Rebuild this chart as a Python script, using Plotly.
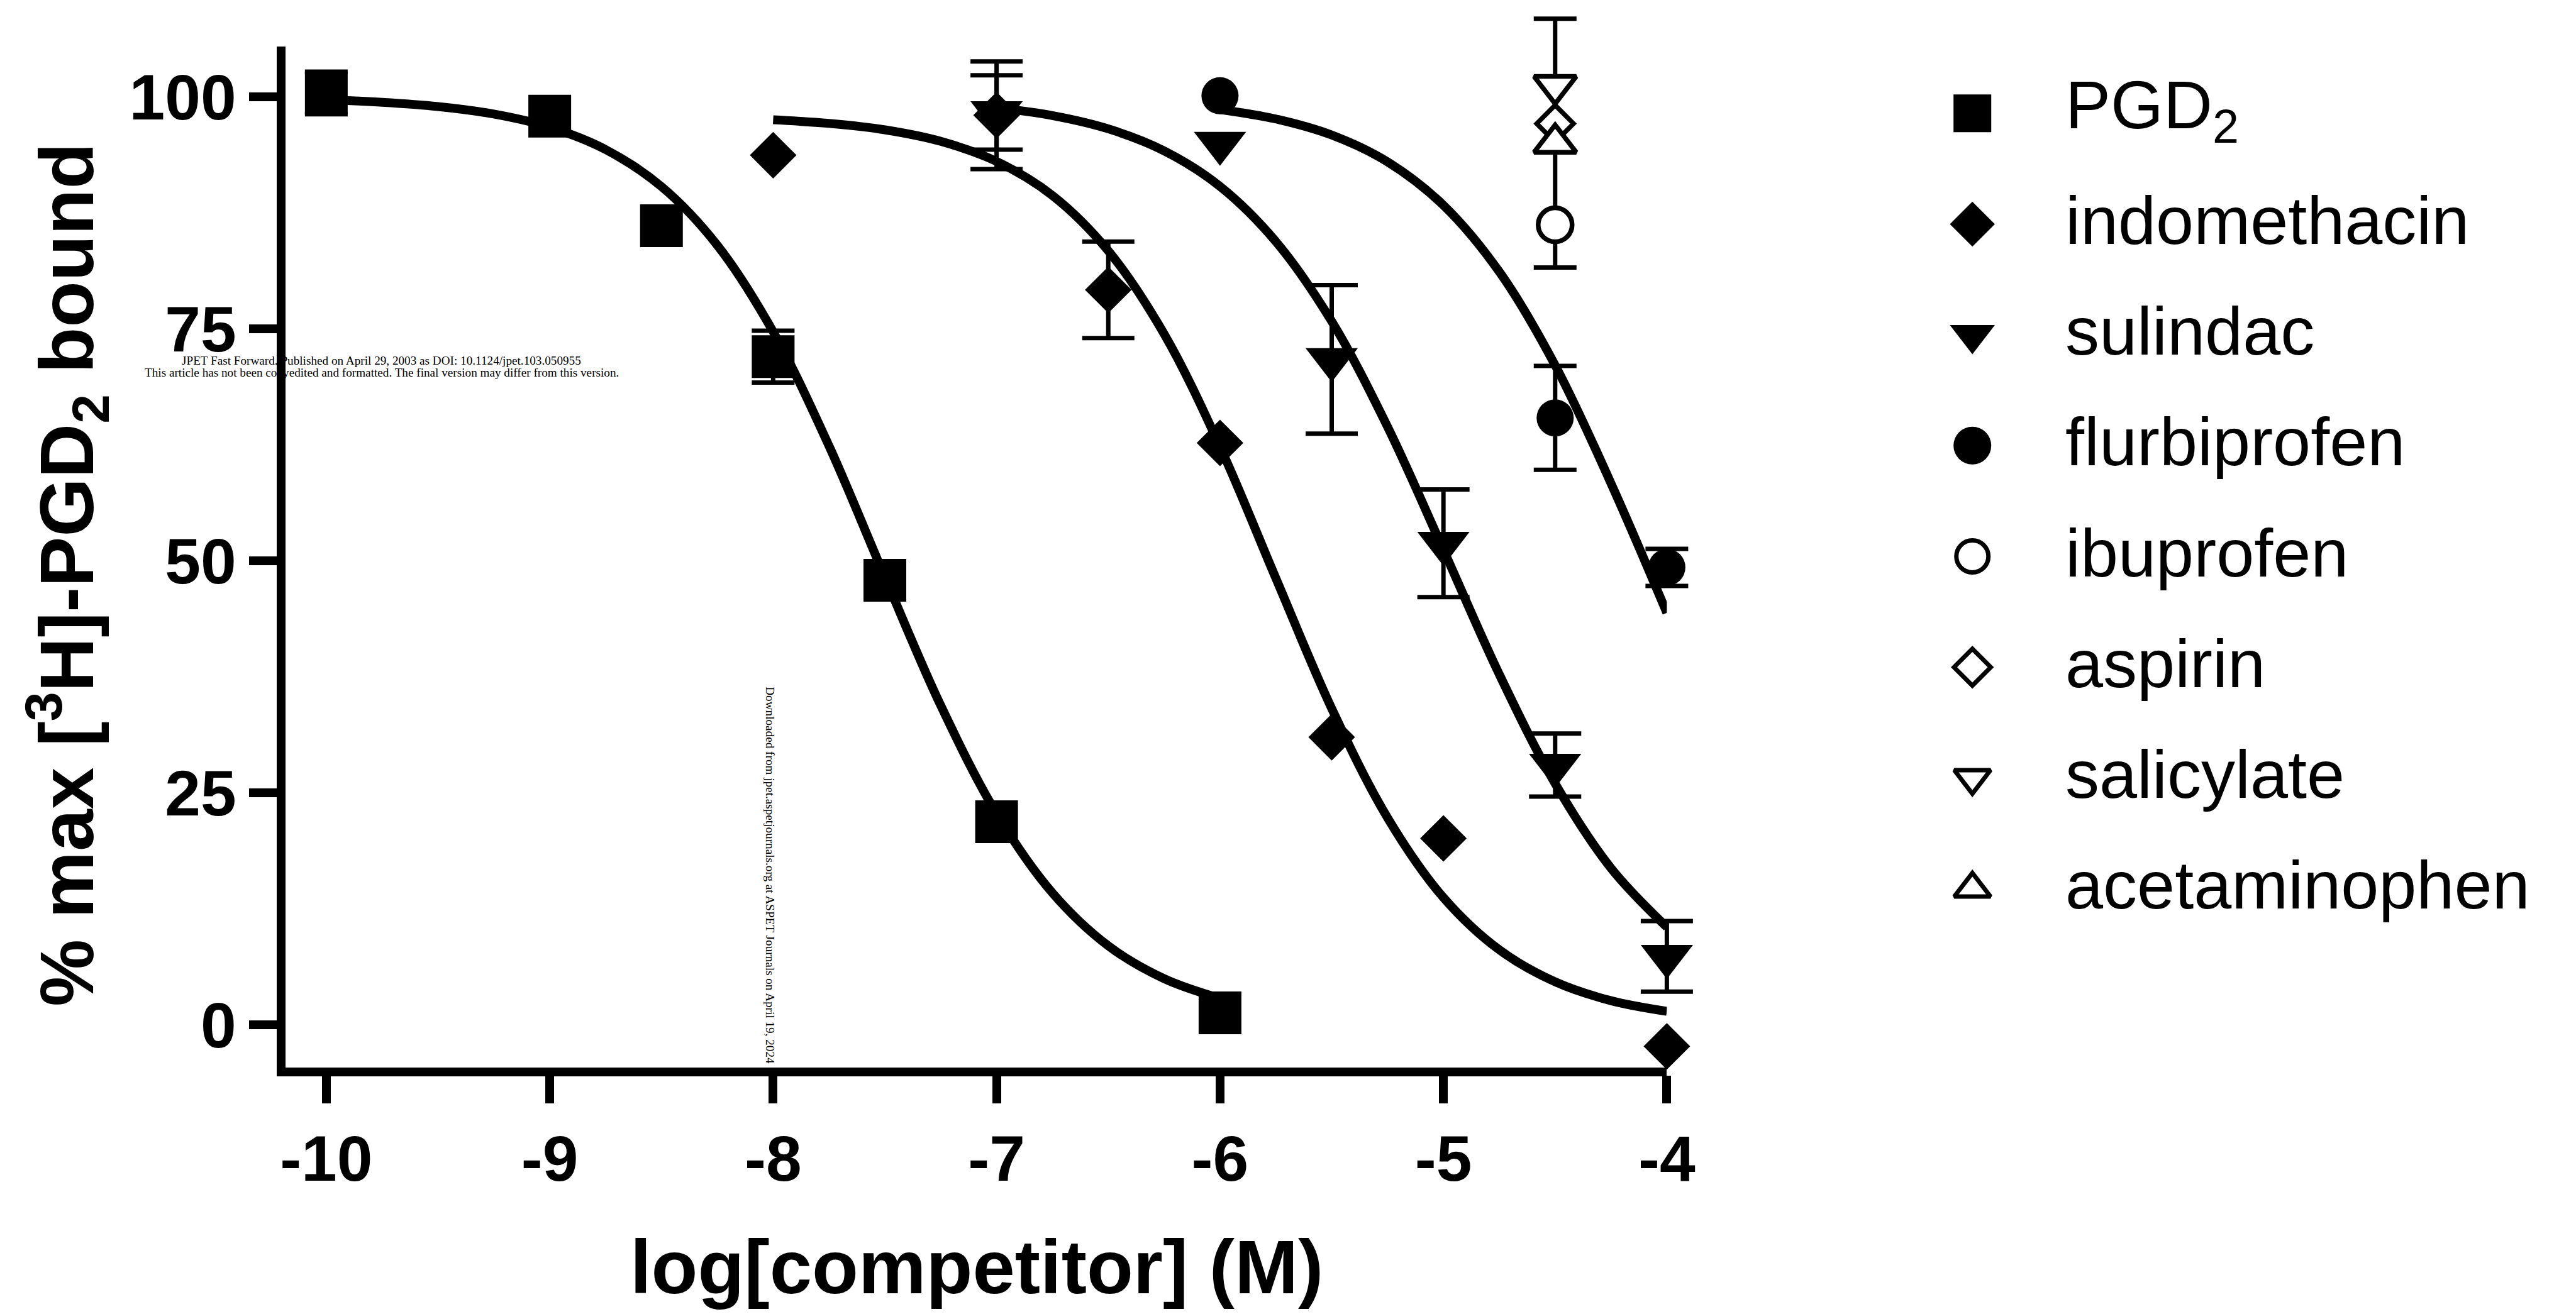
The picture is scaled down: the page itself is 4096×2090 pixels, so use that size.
import plotly.graph_objects as go

W, H = 4096, 2090

# ---------------- data ----------------
# measured points (x = log[competitor] (M), y = % max bound, err = error bar half-length)
pgd2_x = [-10, -9, -8.5, -8, -7.5, -7, -6]
pgd2_y = [100.4, 97.9, 86.1, 72.0, 47.9, 21.9, 1.3]
pgd2_err = [2.3, None, None, 2.8, None, None, None]

indo_x = [-8, -7, -6.5, -6, -5.5, -5, -4]
indo_y = [93.7, 98.0, 79.2, 62.7, 31.0, 20.1, -2.3]
indo_err = [None, 5.8, 5.2, None, None, None, None]

sul_x = [-7, -6, -5.5, -5, -4.5, -4]
sul_y = [98.3, 95.0, 71.7, 51.9, 28.0, 7.4]
sul_err = [4.0, None, 8.0, 5.8, 3.4, 3.8]

flu_x = [-6, -4.5, -4]
flu_y = [100.1, 65.4, 49.3]
flu_err = [None, 5.6, 2.0]

ibu_x = [-4.5]
ibu_y = [86.2]
ibu_err = [None]

asp_x = [-4.5]
asp_y = [97.1]
asp_err = [None]

sal_x = [-4.5]
sal_y = [101.2]
sal_err = [None]

ace_x = [-4.5]
ace_y = [95.0]
ace_err = [13.4]

# fitted curves
pgd2_fit_x = [-10, -9.75, -9.5, -9.25, -9, -8.75, -8.5, -8.25, -8, -7.75, -7.5, -7.25, -7, -6.75, -6.5, -6.25, -6]
pgd2_fit_y = [99.66, 99.40, 98.94, 98.13, 96.72, 94.31, 90.32, 84.00, 74.68, 62.38, 48.26, 34.42, 22.79, 14.23, 8.53, 4.99, 2.87]

indo_fit_x = [-8, -7.75, -7.5, -7.25, -7, -6.75, -6.5, -6.25, -6, -5.75, -5.5, -5.25, -5, -4.75, -4.5, -4.25, -4]
indo_fit_y = [97.51, 97.12, 96.43, 95.19, 93.03, 89.36, 83.40, 74.44, 62.31, 48.13, 34.09, 22.32, 13.73, 8.10, 4.65, 2.62, 1.47]

sul_fit_x = [-7, -6.75, -6.5, -6.25, -6, -5.75, -5.5, -5.25, -5, -4.75, -4.5, -4.25, -4]
sul_fit_y = [98.81, 97.97, 96.54, 94.17, 90.34, 84.40, 75.80, 64.44, 51.20, 37.78, 26.01, 16.90, 10.54]

flu_fit_x = [-6, -5.75, -5.5, -5.25, -5, -4.75, -4.5, -4.25, -4]
flu_fit_y = [98.62, 97.60, 95.87, 92.98, 88.31, 81.15, 71.07, 58.35, 44.40]

x_tick_vals = [-10, -9, -8, -7, -6, -5, -4]
x_tick_text = ["-10", "-9", "-8", "-7", "-6", "-5", "-4"]
y_tick_vals = [0, 25, 50, 75, 100]
y_tick_text = ["0", "25", "50", "75", "100"]

legend_names = ["PGD<sub>2</sub>", "indomethacin", "sulindac", "flurbiprofen",
                "ibuprofen", "aspirin", "salicylate", "acetaminophen"]

x_title = "<b>log[competitor] (M)</b>"
y_title = "<b>% max [<sup>3</sup>H]-PGD<sub>2</sub> bound</b>"
watermark_1 = "JPET Fast Forward. Published on April 29, 2003 as DOI: 10.1124/jpet.103.050955"
watermark_2 = "This article has not been copyedited and formatted. The final version may differ from this version."
watermark_3 = "Downloaded from jpet.aspetjournals.org at ASPET Journals on April 19, 2024"

# ---------------- styling / geometry (output pixels) ----------------
SANS = "Arial, 'Liberation Sans', Helvetica, sans-serif"
SERIF = "'Times New Roman', 'Liberation Serif', serif"
plot_l, plot_r, plot_t, plot_b = 451.8, 2677.7, 73.5, 1697.5
x_range = [-10.183, -4.0]
y_range = [-4.55, 105.44]
AX_LW = 13.6

# an invisible overlay axis pair with the same data scale but a larger area,
# so error bars reaching past the frame are not clipped
ext_r, ext_t = 120.0, 0.0
ux = (x_range[1] - x_range[0]) / (plot_r - plot_l)
uy = (y_range[1] - y_range[0]) / (plot_b - plot_t)
x3_range = [x_range[0], x_range[1] + ext_r * ux]
y3_range = [y_range[0], y_range[1] + (plot_t - ext_t) * uy]

series = [
    dict(name=legend_names[0], x=pgd2_x, y=pgd2_y, err=pgd2_err, sym="square", size=68, open=False, cap=34, lsize=60),
    dict(name=legend_names[1], x=indo_x, y=indo_y, err=indo_err, sym="diamond", size=57, open=False, cap=41.5, lsize=55),
    dict(name=legend_names[2], x=sul_x, y=sul_y, err=sul_err, sym="triangle-down", size=72, open=False, cap=41.5, lsize=62),
    dict(name=legend_names[3], x=flu_x, y=flu_y, err=flu_err, sym="circle", size=59, open=False, cap=34, lsize=60),
    dict(name=legend_names[4], x=ibu_x, y=ibu_y, err=ibu_err, sym="circle", size=54, open=True, cap=34, lsize=51),
    dict(name=legend_names[5], x=asp_x, y=asp_y, err=asp_err, sym="diamond", size=45, open=True, cap=34, lsize=45),
    dict(name=legend_names[6], x=sal_x, y=sal_y, err=sal_err, sym="triangle-down", size=58, open=True, cap=34, lsize=50),
    dict(name=legend_names[7], x=ace_x, y=ace_y, err=ace_err, sym="triangle-up", size=58, open=True, cap=34, lsize=50),
]

fig = go.Figure()

# fitted curves
for fx, fy in [(pgd2_fit_x, pgd2_fit_y), (indo_fit_x, indo_fit_y),
               (sul_fit_x, sul_fit_y), (flu_fit_x, flu_fit_y)]:
    fig.add_trace(go.Scatter(x=fx, y=fy, mode="lines",
                             line=dict(color="black", width=14, shape="spline"),
                             hoverinfo="skip", showlegend=False))

# error bars (drawn under every symbol), only for points that have one
for s in series:
    pts = [(x, y, e) for x, y, e in zip(s["x"], s["y"], s["err"]) if e is not None]
    if not pts:
        continue
    fig.add_trace(go.Scatter(x=[p[0] for p in pts], y=[p[1] for p in pts],
                             xaxis="x3", yaxis="y3", mode="markers",
                             marker=dict(size=2, color="rgba(0,0,0,0)"),
                             error_y=dict(type="data", array=[p[2] for p in pts], visible=True,
                                          color="black", thickness=7, width=s["cap"]),
                             cliponaxis=False, hoverinfo="skip", showlegend=False))

# symbols
for s in series:
    if s["open"]:
        fig.add_trace(go.Scatter(x=s["x"], y=s["y"], xaxis="x3", yaxis="y3", mode="markers",
                                 marker=dict(symbol=s["sym"], size=s["size"], color="white",
                                             line=dict(width=0)),
                                 cliponaxis=False, hoverinfo="skip", showlegend=False))
        fig.add_trace(go.Scatter(x=s["x"], y=s["y"], xaxis="x3", yaxis="y3", mode="markers",
                                 name=s["name"],
                                 marker=dict(symbol=s["sym"] + "-open", size=s["size"], color="black",
                                             line=dict(width=7.5, color="black")),
                                 cliponaxis=False, showlegend=False))
    else:
        fig.add_trace(go.Scatter(x=s["x"], y=s["y"], xaxis="x3", yaxis="y3", mode="markers",
                                 name=s["name"],
                                 marker=dict(symbol=s["sym"], size=s["size"], color="black",
                                             line=dict(width=0)),
                                 cliponaxis=False, showlegend=False))

# hand-drawn legend on a pixel-space overlay axis
leg_marker_x, leg_text_x, leg_y0, leg_dy = 3170, 3318, 180.2, 176.2
for i, s in enumerate(series):
    yrow = leg_y0 + leg_dy * i
    if s["open"]:
        mk = dict(symbol=s["sym"] + "-open", size=s["lsize"], color="black",
                  line=dict(width=7, color="black"))
    else:
        mk = dict(symbol=s["sym"], size=s["lsize"], color="black", line=dict(width=0))
    fig.add_trace(go.Scatter(x=[leg_marker_x], y=[yrow], xaxis="x2", yaxis="y2",
                             mode="markers", marker=mk, hoverinfo="skip", showlegend=False))
    fig.add_annotation(x=leg_text_x, y=yrow - 6, xref="x2", yref="y2", text=s["name"],
                       xanchor="left", yanchor="middle", showarrow=False,
                       font=dict(family=SANS, size=108, color="black"))

# titles
fig.add_annotation(x=1566 / W, y=1 - 2015 / H, xref="paper", yref="paper", text=x_title,
                   xanchor="center", yanchor="middle", showarrow=False,
                   font=dict(family=SANS, size=121, color="black"))
fig.add_annotation(x=100 / W, y=1 - 914 / H, xref="paper", yref="paper", text=y_title,
                   textangle=-90, xanchor="center", yanchor="middle", showarrow=False,
                   font=dict(family=SANS, size=120, color="black"))

# journal watermark text
WM = 19.2
fig.add_annotation(x=606 / W, y=1 - 573.5 / H, xref="paper", yref="paper", text=watermark_1,
                   xanchor="center", yanchor="middle", showarrow=False,
                   font=dict(family=SERIF, size=WM, color="black"))
fig.add_annotation(x=607 / W, y=1 - 592 / H, xref="paper", yref="paper", text=watermark_2,
                   xanchor="center", yanchor="middle", showarrow=False,
                   font=dict(family=SERIF, size=WM, color="black"))
fig.add_annotation(x=1233 / W, y=1 - 1392 / H, xref="paper", yref="paper", text=watermark_3,
                   textangle=90, xanchor="center", yanchor="middle", showarrow=False,
                   font=dict(family=SERIF, size=WM, color="black"))

axis_common = dict(showline=True, linecolor="black", linewidth=AX_LW, ticks="outside",
                   ticklen=44, tickwidth=AX_LW, tickcolor="black", showgrid=False,
                   zeroline=False, fixedrange=True,
                   tickfont=dict(family=SANS, size=102, color="black", weight="bold"))

fig.update_layout(
    width=W, height=H,
    margin=dict(l=0, r=0, t=0, b=0, pad=0),
    paper_bgcolor="white", plot_bgcolor="rgba(0,0,0,0)",
    showlegend=False,
    xaxis=dict(domain=[plot_l / W, plot_r / W], range=x_range, anchor="y",
               tickmode="array", tickvals=x_tick_vals, ticktext=x_tick_text, **axis_common),
    yaxis=dict(domain=[1 - plot_b / H, 1 - plot_t / H], range=y_range, anchor="x",
               tickmode="array", tickvals=y_tick_vals, ticktext=y_tick_text, **axis_common),
    xaxis2=dict(domain=[0, 1], range=[0, W], visible=False, anchor="y2", fixedrange=True),
    yaxis2=dict(domain=[0, 1], range=[H, 0], visible=False, anchor="x2", fixedrange=True),
    xaxis3=dict(domain=[plot_l / W, (plot_r + ext_r) / W], range=x3_range, visible=False,
                anchor="y3", fixedrange=True),
    yaxis3=dict(domain=[1 - plot_b / H, 1 - ext_t / H], range=y3_range, visible=False,
                anchor="x3", fixedrange=True),
)

fig.write_html("out.html")
